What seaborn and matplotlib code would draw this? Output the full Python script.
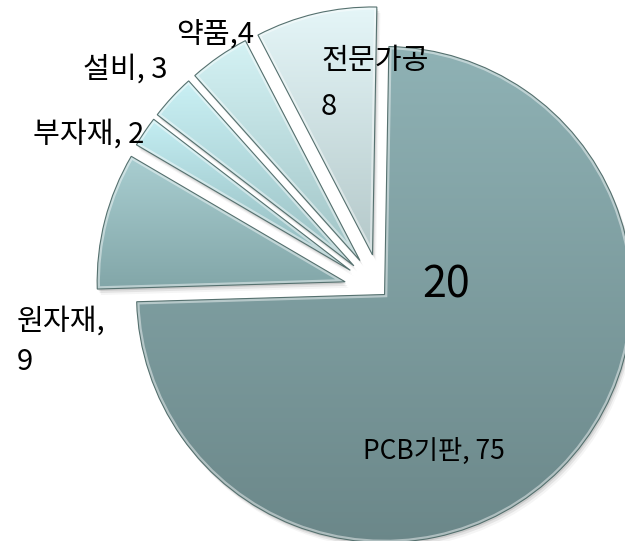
import matplotlib
matplotlib.use("Agg")
import matplotlib.pyplot as plt
import seaborn as sns
import numpy as np
from matplotlib.patches import Wedge

# data
categories = ["PCB기판", "원자재", "부자재", "설비", "약품", "전문가공"]
values = [75, 9, 2, 3, 4, 8]
center_note = "20"

# label formats (the original mixes styles)
label_formats = ["{}, {}", "{},\n{}", "{}, {}", "{}, {}", "{},{}", "{}\n{}"]

# gradient colours per slice (bottom, top)
slice_colors = [("#6b8789", "#8fb2b5"),
                ("#82a6a8", "#a9ced1"),
                ("#8fb6b9", "#c4eef3"),
                ("#98bec1", "#c9f0f4"),
                ("#a0c3c5", "#d4f2f4"),
                ("#b4c8c9", "#e5f6f8")]

sns.set_theme(style="white")
plt.rcParams['font.family'] = ['Noto Sans CJK KR', 'DejaVu Sans']

fig = plt.figure(figsize=(6.25, 5.41), dpi=100)
ax = fig.add_axes([0, 0, 1, 1])

R = 248
# pie explode is in data units here (radius is in pixels)
explode = [5, 37, 37, 37, 37, 37]
wedges, _ = ax.pie(values, explode=explode, startangle=89, counterclock=False,
                   radius=R, center=(381, 250),
                   wedgeprops=dict(facecolor="none", edgecolor="none"))

grad = np.linspace(0, 1, 256).reshape(-1, 1)
for w, (c_bot, c_top) in zip(wedges, slice_colors):
    verts = w.get_path().vertices
    x0, y0 = verts.min(axis=0)
    x1, y1 = verts.max(axis=0)
    # soft drop shadow
    for k, a in zip([2, 4, 6], [0.10, 0.07, 0.04]):
        sh = Wedge((w.center[0] + k * 0.6, w.center[1] - k), w.r, w.theta1, w.theta2,
                   facecolor="black", edgecolor="none", alpha=a, zorder=1)
        ax.add_patch(sh)
    cmap = sns.blend_palette([c_bot, c_top], as_cmap=True)
    im = ax.imshow(grad, extent=(x0, x1, y0, y1), origin="lower", cmap=cmap,
                   aspect="auto", zorder=2)
    im.set_clip_path(w)
    # bevel highlight
    hl = Wedge(w.center, w.r, w.theta1, w.theta2, facecolor="none",
               edgecolor="white", lw=4, alpha=0.45, zorder=3)
    ax.add_patch(hl)
    hl.set_clip_path(w)
    w.set_edgecolor("#56716f")
    w.set_linewidth(0.8)
    w.set_zorder(4)

# label positions in pixel space (x, y from top), fontsize, linespacing
label_pos = [(363, 451, "left", 19, 1.2),
             (17, 342, "left", 21, 1.45),
             (33, 135, "left", 21, 1.2),
             (83, 70, "left", 21, 1.2),
             (176, 35, "left", 21, 1.2),
             (321, 84, "left", 21, 1.7)]

for cat, val, fmt, (x, y, ha, fs, ls) in zip(categories, values, label_formats, label_pos):
    ax.text(x, 541 - y, fmt.format(cat, val), ha=ha, va="center", fontsize=fs,
            linespacing=ls, color="black", zorder=6)

ax.text(422, 541 - 285, center_note, ha="left", va="center", fontsize=31,
        color="black", zorder=6)

ax.set_xlim(0, 625)
ax.set_ylim(0, 541)
ax.set_aspect("equal")
ax.axis("off")

plt.savefig("out.png", dpi=100)
plt.close()
